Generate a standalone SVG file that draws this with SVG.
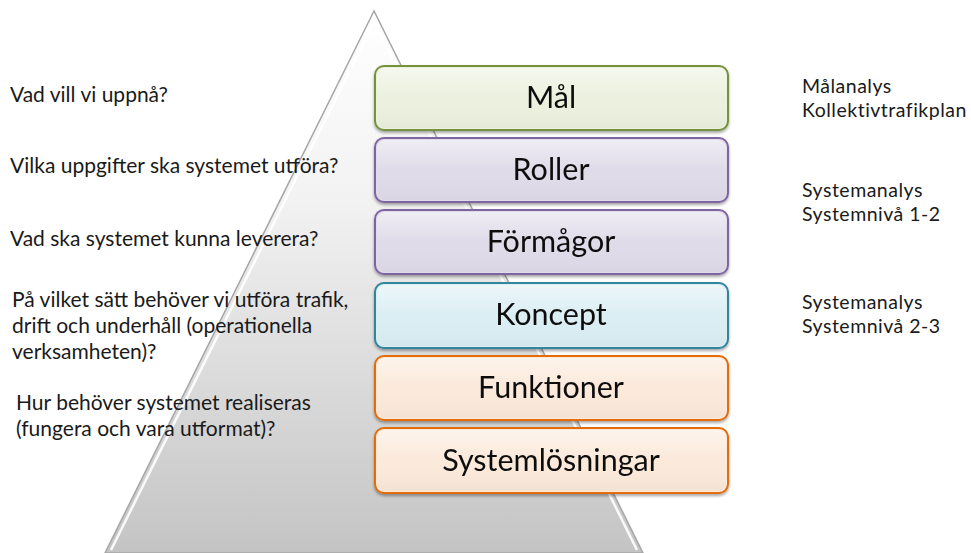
<svg xmlns="http://www.w3.org/2000/svg" width="971" height="553" viewBox="0 0 971 553">
<defs>
<linearGradient id="pyr" x1="0" y1="0" x2="0" y2="1">
<stop offset="0" stop-color="#ffffff"/>
<stop offset="0.35" stop-color="#f2f2f2"/>
<stop offset="1" stop-color="#c4c4c4"/>
</linearGradient>
<linearGradient id="gloss" x1="0" y1="0" x2="0" y2="1">
<stop offset="0" stop-color="#ffffff" stop-opacity="0.5"/>
<stop offset="0.5" stop-color="#ffffff" stop-opacity="0"/>
<stop offset="1" stop-color="#000000" stop-opacity="0.03"/>
</linearGradient>
<filter id="sh" x="-10%" y="-20%" width="120%" height="150%">
<feGaussianBlur in="SourceAlpha" stdDeviation="1.5"/>
<feOffset dx="0" dy="2" result="b"/>
<feComponentTransfer><feFuncA type="linear" slope="0.35"/></feComponentTransfer>
<feMerge><feMergeNode/><feMergeNode in="SourceGraphic"/></feMerge>
</filter>
</defs>
<style>
.q{font-family:Lato,"Open Sans",sans-serif;font-size:21px;fill:#1a1a1a}
.r{font-family:Lato,"Open Sans",sans-serif;font-size:19.5px;letter-spacing:0.5px;fill:#1a1a1a}
.lbl{font-family:Lato,"Open Sans",sans-serif;font-size:30.5px;fill:#111;text-anchor:middle}
.box{stroke-width:2}
.g{fill:#ebf1de;stroke:#76923c}
.p{fill:#e0dbe9;stroke:#8064a2}
.b{fill:#dbeef4;stroke:#31859c}
.o{fill:#fbe9da;stroke:#e46c0a}
</style>
<rect width="971" height="553" fill="#ffffff"/>
<g id="pyramid">
<polygon points="374,11 105,553 643,553" fill="url(#pyr)" stroke="#a6a6a6" stroke-width="1.5"/>
<polyline points="111,550 374,22 637,550" fill="none" stroke="#ffffff" stroke-width="2.5" stroke-opacity="0.9"/>
</g>
<g id="questions">
<text class="q" x="10" y="102">Vad vill vi uppnå?</text>
<text class="q" x="10" y="173">Vilka uppgifter ska systemet utföra?</text>
<text class="q" x="10" y="246">Vad ska systemet kunna leverera?</text>
<text class="q" x="12" y="307">På vilket sätt behöver vi utföra trafik,</text>
<text class="q" x="12" y="333">drift och underhåll (operationella</text>
<text class="q" x="12" y="359">verksamheten)?</text>
<text class="q" x="16" y="410">Hur behöver systemet realiseras</text>
<text class="q" x="16" y="436">(fungera och vara utformat)?</text>
</g>
<g id="mal" filter="url(#sh)">
<rect class="box g" x="375" y="66" width="353" height="64" rx="9"/>
<rect x="377" y="68" width="349" height="60" rx="8" fill="url(#gloss)"/>
<text class="lbl" x="551" y="108">Mål</text>
</g>
<g id="roller" filter="url(#sh)">
<rect class="box p" x="375" y="138" width="353" height="64" rx="9"/>
<rect x="377" y="140" width="349" height="60" rx="8" fill="url(#gloss)"/>
<text class="lbl" x="551" y="180">Roller</text>
</g>
<g id="formagor" filter="url(#sh)">
<rect class="box p" x="375" y="210" width="353" height="64" rx="9"/>
<rect x="377" y="212" width="349" height="60" rx="8" fill="url(#gloss)"/>
<text class="lbl" x="551" y="252">Förmågor</text>
</g>
<g id="koncept" filter="url(#sh)">
<rect class="box b" x="375" y="283" width="353" height="65" rx="9"/>
<rect x="377" y="285" width="349" height="61" rx="8" fill="url(#gloss)"/>
<text class="lbl" x="551" y="325">Koncept</text>
</g>
<g id="funktioner" filter="url(#sh)">
<rect class="box o" x="375" y="356" width="353" height="64" rx="9"/>
<rect x="377" y="358" width="349" height="60" rx="8" fill="url(#gloss)"/>
<text class="lbl" x="551" y="398">Funktioner</text>
</g>
<g id="systemlosningar" filter="url(#sh)">
<rect class="box o" x="375" y="428" width="353" height="65" rx="9"/>
<rect x="377" y="430" width="349" height="61" rx="8" fill="url(#gloss)"/>
<text class="lbl" x="551" y="471">Systemlösningar</text>
</g>
<g id="analyses">
<text class="r" x="802" y="93">Målanalys</text>
<text class="r" x="802" y="117">Kollektivtrafikplan</text>
<text class="r" x="802" y="197">Systemanalys</text>
<text class="r" x="802" y="221">Systemnivå 1-2</text>
<text class="r" x="802" y="309">Systemanalys</text>
<text class="r" x="802" y="333">Systemnivå 2-3</text>
</g>
</svg>
